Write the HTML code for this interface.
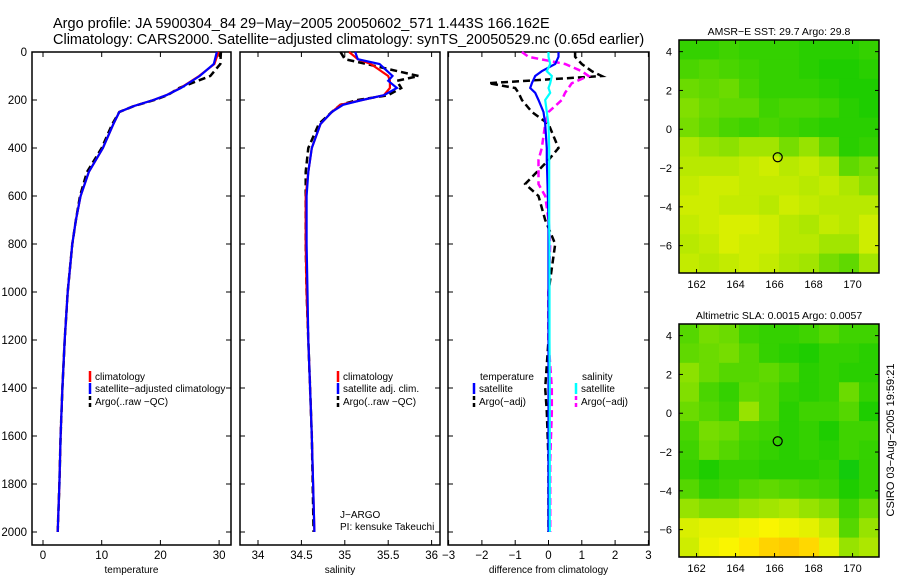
<!DOCTYPE html>
<html><head><meta charset="utf-8"><style>
body{margin:0;background:#fff;}
svg{display:block;font-family:"Liberation Sans",sans-serif;}
</style></head><body>
<svg id="fig" width="900" height="580" viewBox="0 0 900 580">
<text x="53" y="28" font-size="14.5">Argo profile: JA 5900304_84 29−May−2005 20050602_571 1.443S 166.162E</text>
<text x="53" y="44" font-size="14.5">Climatology: CARS2000. Satellite−adjusted climatology: synTS_20050529.nc (0.65d earlier)</text>
<g id="g"></g>
</svg>
<script>
// ---- data ----
const tDepth=[0,50,100,150,180,200,225,250,300,400,500,600,700,800,1000,1200,1400,1600,1800,2000];
const tClim=[29.9,29.2,26.6,23.4,21,18.8,15.5,13,12,10.2,7.8,6.4,5.6,5.0,4.2,3.7,3.3,3.0,2.8,2.5];
const tSat=[29.6,29.1,26.7,23.5,21,18.8,15.5,13,12,10.2,7.8,6.4,5.6,5.0,4.2,3.7,3.3,3.0,2.8,2.5];
const tArgo=[30.3,30.2,28.5,23.2,21.2,19.0,15.5,13,11.8,10.0,7.5,6.3,5.6,5.0,4.2,3.7,3.3,3.0,2.8,2.5];
const sDepth=[0,30,50,100,120,150,180,200,220,250,300,400,500,600,800,1000,1200,1400,1600,2000];
const sClim=[35.05,35.15,35.3,35.5,35.52,35.52,35.45,35.2,34.95,34.85,34.72,34.62,34.58,34.55,34.55,34.56,34.58,34.6,34.62,34.65];
const sSat=[35.12,35.15,35.4,35.55,35.5,35.6,35.45,35.2,34.98,34.85,34.72,34.62,34.58,34.56,34.56,34.57,34.58,34.6,34.62,34.65];
const sArgo=[34.95,35.0,35.25,35.85,35.6,35.65,35.5,35.15,34.95,34.85,34.7,34.58,34.55,34.55,34.55,34.56,34.58,34.6,34.62,34.64];
const dDepth=[0,20,50,80,100,130,150,170,200,250,300,400,450,550,600,700,800,1000,1200,1400,1500,1700,2000];
const dTSat=[0.3,0.3,0.2,-0.2,-0.4,-0.5,-0.55,-0.4,-0.3,-0.15,-0.1,-0.05,-0.05,-0.03,-0.02,0,0,0,0,0,0,0,0];
const dSSat=[0.0,0.0,0.05,-0.05,0.1,0.05,0,0.05,-0.1,-0.05,0.0,0.02,0.02,0.02,0.02,0.02,0.03,0.03,0.03,0.04,0.04,0.04,0.04];
const dTArgo=[0.8,0.8,1.0,1.3,1.6,-1.8,-1.0,-0.9,-0.8,-0.5,0.0,0.3,0.0,-0.7,-0.3,-0.1,0.2,0.0,0.0,-0.1,-0.05,0,0];
const dSArgo=[-0.8,-0.6,0.5,1.0,1.2,0.7,0.6,0.5,0.4,0.0,-0.1,-0.2,-0.3,-0.3,-0.1,0,0.05,0.0,0.0,0.1,0.1,0.05,0.05];
const depthTicks=[0,200,400,600,800,1000,1200,1400,1600,1800,2000];
const tTicks=[0,10,20,30], sTicks=[34,34.5,35,35.5,36], sTickLabels=["34","34.5","35","35.5","36"], dTicks=[-3,-2,-1,0,1,2,3];
const lonTicks=[162,164,166,168,170], latTicks=[4,2,0,-2,-4,-6];
const argoLon=166.162, argoLat=-1.443;
const sstGrid=[
[0.1,0.1,0.15,0.1,0.1,0.1,0.05,0.05,0.05,0.1],
[0.2,0.25,0.2,0.15,0.1,0.1,0.05,0.0,0.0,0.05],
[0.35,0.3,0.35,0.2,0.1,0.1,0.1,0.05,0.0,0.0],
[0.45,0.35,0.3,0.3,0.15,0.2,0.2,0.15,0.05,0.0],
[0.4,0.3,0.2,0.15,0.2,0.15,0.1,0.05,0.05,0.05],
[0.65,0.55,0.5,0.6,0.6,0.4,0.55,0.3,0.05,0.1],
[0.7,0.7,0.7,0.75,0.8,0.7,0.75,0.65,0.3,0.4],
[0.75,0.8,0.8,0.75,0.75,0.75,0.7,0.75,0.65,0.5],
[0.8,0.8,0.75,0.75,0.7,0.8,0.75,0.7,0.7,0.7],
[0.75,0.8,0.85,0.85,0.8,0.7,0.65,0.75,0.7,0.8],
[0.7,0.75,0.85,0.8,0.8,0.7,0.7,0.6,0.6,0.8],
[0.75,0.7,0.75,0.8,0.75,0.65,0.6,0.4,0.3,0.6]];
const slaGrid=[
[0.25,0.4,0.35,0.15,0.1,0.1,0.15,0.25,0.15,0.15],
[0.3,0.35,0.4,0.25,0.1,0.05,0.0,0.1,0.1,0.05],
[0.5,0.35,0.25,0.25,0.3,0.2,0.05,0.1,0.05,0.05],
[0.45,0.2,0.1,0.3,0.25,0.1,0.05,0.1,0.35,0.1],
[0.35,0.25,0.15,0.55,0.25,0.05,0.15,0.15,0.25,0.0],
[0.2,0.4,0.35,0.2,0.15,0.05,0.1,0.0,0.15,0.15],
[0.15,0.35,0.25,0.15,0.1,0.05,0.1,0.05,0.15,0.1],
[0.1,0.0,0.1,0.1,0.05,0.05,0.05,0.1,-0.05,0.1],
[0.25,0.1,0.15,0.25,0.3,0.25,0.2,0.15,0.0,0.1],
[0.55,0.45,0.45,0.55,0.6,0.65,0.55,0.45,0.15,0.35],
[0.85,0.9,0.9,0.95,1.0,0.95,0.9,0.75,0.25,0.55],
[0.8,0.95,1.0,1.05,1.12,1.15,1.1,0.9,0.55,0.65]];

// ---- drawing ----
const NS="http://www.w3.org/2000/svg";
const G=document.getElementById('g');
function mk(tag,attrs,parent){const e=document.createElementNS(NS,tag);for(const k in attrs)e.setAttribute(k,attrs[k]);(parent||G).appendChild(e);return e;}
const yD=d=>52+d*0.24;
const PT=52,PB=545;
function frame(x0,x1,name){
  const r=mk('rect',{x:x0,y:PT,width:x1-x0,height:PB-PT,fill:'none',stroke:'#000','stroke-width':1.5});
  
  depthTicks.forEach(d=>{const y=yD(d);
    mk('line',{x1:x0,x2:x0+5,y1:y,y2:y,stroke:'#000'});mk('line',{x1:x1-5,x2:x1,y1:y,y2:y,stroke:'#000'});});
}
function xticks(vals,labels,fx,x0,x1,title,name){
  vals.forEach((v,i)=>{const x=fx(v);
    mk('line',{x1:x,x2:x,y1:PT,y2:PT+5,stroke:'#000'});mk('line',{x1:x,x2:x,y1:PB-5,y2:PB,stroke:'#000'});
    const t=mk('text',{x:x,y:559,'font-size':11.5,'text-anchor':'middle'});t.textContent=labels[i];
    });
  const t=mk('text',{x:(x0+x1)/2,y:573,'font-size':10,'text-anchor':'middle'});t.textContent=title;
  
}
function line(depths,vals,fx,color,dash,name,w){
  const pts=depths.map((d,i)=>fx(vals[i]).toFixed(1)+','+yD(d).toFixed(1)).join(' ');
  const p=mk('polyline',{points:pts,fill:'none',stroke:color,'stroke-width':w||2.2});
  if(dash)p.setAttribute('stroke-dasharray','7,4');
  
}
function legend(x,y,color,dash,label,name){
  mk('line',{x1:x,x2:x,y1:y-9,y2:y+2,stroke:color,'stroke-width':2.5,'stroke-dasharray':dash?'4,3':'none'});
  const t=mk('text',{x:x+5,y:y,'font-size':10});t.textContent=label;
  
}
depthTicks.forEach(d=>{const t=mk('text',{x:27,y:yD(d)+4,'font-size':11.5,'text-anchor':'end'});t.textContent=d;
  });
// panel 1
const fT=v=>43+v*5.87;
frame(32,231,'temperature-panel');
xticks(tTicks,tTicks.map(String),fT,32,231,'temperature','temperature');
line(tDepth,tArgo,fT,'#000',true,'argo-temperature-line',2.5);
line(tDepth,tClim,fT,'#f00',false,'climatology-temperature-line');
line(tDepth,tSat,fT,'#00f',false,'satellite-temperature-line');
legend(90,380,'#f00',false,'climatology','legend-climatology');
legend(90,392,'#00f',false,'satellite−adjusted climatology','legend-satellite');
legend(90,405,'#000',true,'Argo(..raw −QC)','legend-argo');
// panel 2
const fS=v=>258+(v-34)*86.8;
frame(240,440,'salinity-panel');
xticks(sTicks,sTickLabels,fS,240,440,'salinity','salinity');
line(sDepth,sArgo,fS,'#000',true,'argo-salinity-line',2.5);
line(sDepth,sClim,fS,'#f00',false,'climatology-salinity-line');
line(sDepth,sSat,fS,'#00f',false,'satellite-salinity-line');
legend(338,380,'#f00',false,'climatology','legend-climatology-2');
legend(338,392,'#00f',false,'satellite adj. clim.','legend-satellite-2');
legend(338,405,'#000',true,'Argo(..raw −QC)','legend-argo-2');
let t=mk('text',{x:340,y:518,'font-size':10});t.textContent='J−ARGO';
t=mk('text',{x:340,y:530,'font-size':10});t.textContent='PI: kensuke Takeuchi';
// panel 3
const fDf=v=>548.5+v*33.3;
frame(448,649,'difference-panel');
xticks(dTicks,dTicks.map(v=>v<0?'−'+(-v):String(v)),fDf,448,649,'difference from climatology','difference');
line(dDepth,dTArgo,fDf,'#000',true,'argo-temperature-diff-line',2.5);
line(dDepth,dSArgo,fDf,'#f0f',true,'argo-salinity-diff-line',2.5);
line(dDepth,dTSat,fDf,'#00f',false,'satellite-temperature-diff-line');
line(dDepth,dSSat,fDf,'#0ff',false,'satellite-salinity-diff-line');
t=mk('text',{x:480,y:380,'font-size':10});t.textContent='temperature';
legend(474,392,'#00f',false,'satellite','legend-temp-satellite');
legend(474,405,'#000',true,'Argo(−adj)','legend-temp-argo');
t=mk('text',{x:582,y:380,'font-size':10});t.textContent='salinity';
legend(576,392,'#0ff',false,'satellite','legend-sal-satellite');
legend(576,405,'#f0f',true,'Argo(−adj)','legend-sal-argo');
// maps
function col(v){let r=Math.max(0,Math.min(255,30+v*220)),g=v>1?245-(v-1)*280:205+v*40,b=v<0?-v*250:0;
  return `rgb(${r|0},${g|0},${b|0})`;}
function map(y0,grid,title,name){
  const x0=679,x1=879,y1=y0+233;
  const fx=lon=>x0+(lon-161.1)*19.5, fy=lat=>y0+(4.6-lat)*19.4;
  const ny=grid.length,nx=grid[0].length,cw=(x1-x0)/nx,ch=(y1-y0)/ny;
  grid.forEach((row,j)=>row.forEach((v,i)=>{
    const c=mk('rect',{x:x0+i*cw,y:y0+j*ch,width:cw+0.5,height:ch+0.5,fill:col(v)});
    }));
  const f=mk('rect',{x:x0,y:y0,width:x1-x0,height:y1-y0,fill:'none',stroke:'#000','stroke-width':1.5});
  
  lonTicks.forEach(l=>{const x=fx(l);mk('line',{x1:x,x2:x,y1:y0,y2:y0+4,stroke:'#000'});mk('line',{x1:x,x2:x,y1:y1-4,y2:y1,stroke:'#000'});
    const tt=mk('text',{x:x,y:y1+15,'font-size':11,'text-anchor':'middle'});tt.textContent=l;
    });
  latTicks.forEach(l=>{const y=fy(l);mk('line',{x1:x0,x2:x0+4,y1:y,y2:y,stroke:'#000'});mk('line',{x1:x1-4,x2:x1,y1:y,y2:y,stroke:'#000'});
    const tt=mk('text',{x:x0-7,y:y+4,'font-size':11,'text-anchor':'end'});tt.textContent=l<0?'−'+(-l):l;
    });
  const c=mk('circle',{cx:fx(argoLon),cy:fy(argoLat),r:4.5,fill:'none',stroke:'#000','stroke-width':1.2});
  
  const tt=mk('text',{x:(x0+x1)/2,y:y0-5,'font-size':10.5,'text-anchor':'middle'});tt.textContent=title;
  
}
map(40,sstGrid,'AMSR−E SST: 29.7 Argo: 29.8','sst-map');
map(324,slaGrid,'Altimetric SLA: 0.0015 Argo: 0.0057','sla-map');
t=mk('text',{x:0,y:0,'font-size':11,'text-anchor':'middle',transform:'translate(894,440) rotate(-90)'});
t.textContent='CSIRO 03−Aug−2005 19:59:21';
</script>
</body></html>
